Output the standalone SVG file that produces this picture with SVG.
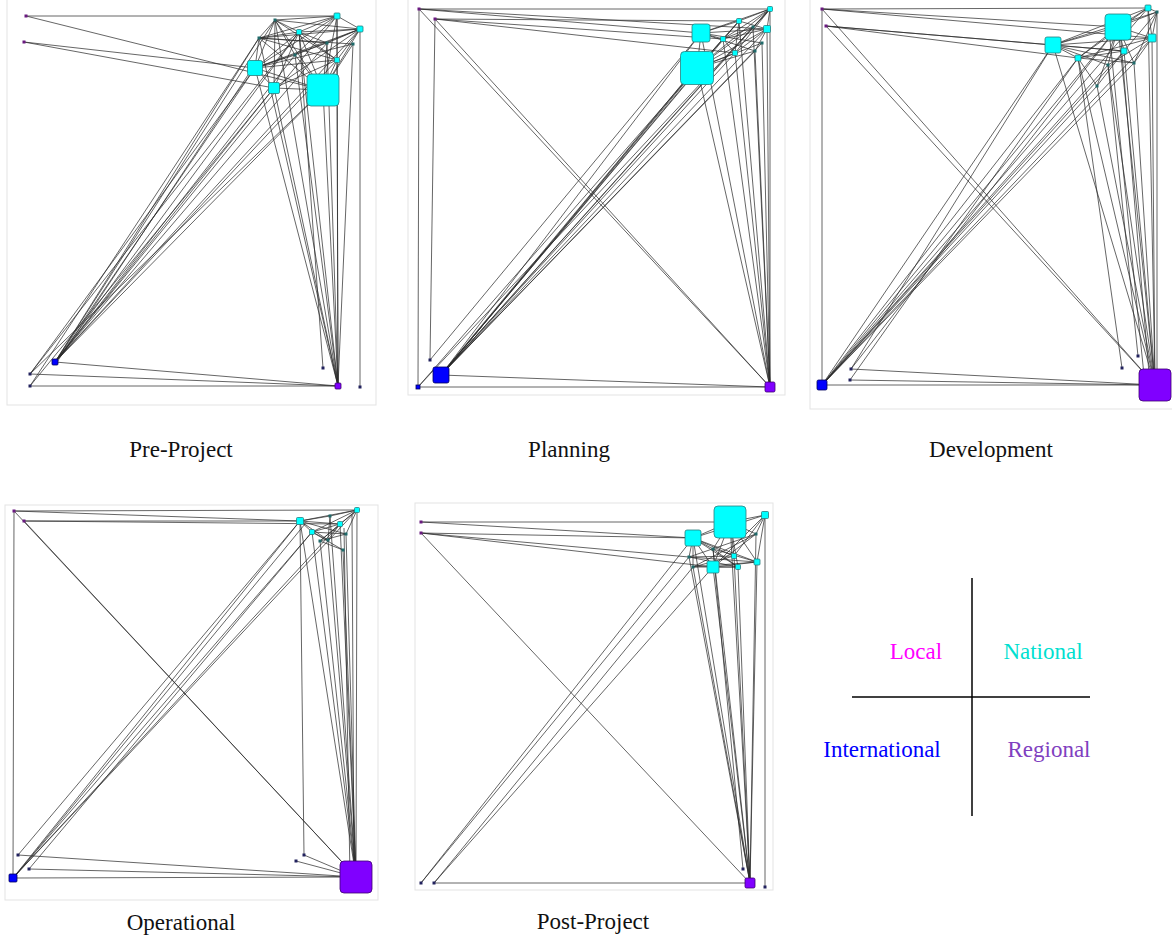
<svg xmlns="http://www.w3.org/2000/svg" width="1172" height="938" viewBox="0 0 1172 938">
<style>
.f{fill:none;stroke:#e3e3e3;stroke-width:1}
.e{fill:none;stroke:#2a2a2a;stroke-width:0.85;stroke-opacity:0.85}
.c{fill:#00ffff;stroke:#2a7f7f;stroke-width:0.8}
.b{fill:#0000ff;stroke:#00005a;stroke-width:0.8}
.r{fill:#8000ff;stroke:#3c0070;stroke-width:0.8}
.t{fill:#1f6a6a}
.l{fill:#6a1a80}
.n{fill:#22225e}
.cap{font-family:"Liberation Serif","Times New Roman",serif;font-size:23px;text-anchor:middle;fill:#111}
.lg{font-family:"Liberation Serif","Times New Roman",serif;font-size:23px;text-anchor:middle}
</style>
<rect width="1172" height="938" fill="#fff"/>
<g id="frames">
<rect class="f" x="7" y="-1" width="369" height="406"/>
<rect class="f" x="408" y="-1" width="377" height="396"/>
<rect class="f" x="810" y="-1" width="363" height="410"/>
<rect class="f" x="5" y="505" width="373" height="395"/>
<rect class="f" x="415" y="503" width="358" height="387"/>
</g>
<g id="connectors">
<path class="e" d="M26 16L337 16M26 16L323 90M24 42L274 88M24 42L255 68
M337 16L275 20M337 16L299 32M337 16L259 38M337 16L360 29M337 16L255 68M337 16L323 90M337 16L337 60M337 16L295 55
M360 29L275 20M360 29L299 32M360 29L259 38M360 29L255 68M360 29L323 90M360 29L337 60M360 29L327 43M360 29L295 55M360 29L274 88
M275 20L259 38M275 20L299 32M275 20L255 68M275 20L323 90M275 20L337 60M275 20L295 55M275 20L274 88
M299 32L259 38M299 32L255 68M299 32L323 90M299 32L327 43M299 32L337 60M299 32L274 88
M259 38L255 68M259 38L337 60M259 38L323 90M259 38L327 43M259 38L353 44
M327 43L255 68M327 43L323 90M353 44L255 68M353 44L323 90M295 55L255 68M295 55L323 90
M337 60L255 68M337 60L323 90M337 60L274 88M255 68L274 88M255 68L323 90M274 88L323 90
M55 362L255 68M55 362L274 88M55 362L323 90M55 362L275 20M55 362L299 32M55 362L259 38M55 362L327 43M55 362L295 55M55 362L337 60M55 362L337 16M55 362L360 29M57 362L250 72
M30 374L255 68M30 374L323 90M30 374L299 32M30 386L274 88M30 386L259 38
M338 386L255 68M338 386L274 88M338 386L323 90M338 386L275 20M338 386L299 32M338 386L259 38M338 386L295 55M338 386L337 60M338 386L337 16M338 386L327 43M338 386L353 44
M338 386L55 362M338 386L30 374M338 386L30 386M323 368L299 32M360 387L360 29"/>
<path class="e" d="M419 9L770 9M419 9L767 29M419 9L701 33M435 19L739 21M435 19L723 39M435 19L735 53
M419 9L418 387M435 19L430 360M419 9L770 387M435 19L770 387M418 387L770 9
M441 375L697 68M441 375L701 33M441 375L723 39M441 375L735 53M441 375L739 21M441 375L755 51M441 375L753 27M441 375L762 43M441 375L767 29M441 375L770 9M444 372L690 75M438 378L692 72
M418 387L697 68M430 360L701 33
M770 387L697 68M770 387L701 33M770 387L723 39M770 387L735 53M770 387L739 21M770 387L755 51M770 387L753 27M770 387L762 43M770 387L767 29M770 387L770 9
M441 375L770 387M418 387L770 387
M770 9L739 21M770 9L701 33M770 9L767 29M770 9L723 39M770 9L753 27M770 9L735 53M770 9L697 68
M739 21L701 33M739 21L767 29M739 21L723 39M739 21L697 68M739 21L735 53
M701 33L767 29M701 33L723 39M701 33L697 68M701 33L762 43M701 33L755 51
M767 29L723 39M767 29L735 53M767 29L697 68M767 29L755 51
M723 39L697 68M723 39L735 53M723 39L753 27M753 27L697 68M762 43L697 68M735 53L697 68M755 51L697 68"/>
<path class="e" d="M822 9L1148 8M822 9L1118 27M822 9L1152 38M826 26L1053 45M826 26L1078 58M826 26L1124 51
M822 9L822 385M822 9L1155 385M826 26L1155 385M822 385L1148 8
M822 385L1118 27M822 385L1053 45M822 385L1078 58M822 385L1108 65M822 385L1097 86M822 385L1124 51M822 385L1134 63M822 385L1152 38
M851 369L1053 45M851 369L1118 27M850 380L1078 58
M1155 385L1148 8M1155 385L1118 27M1155 385L1053 45M1155 385L1152 38M1155 385L1124 51M1155 385L1078 58M1155 385L1134 63M1155 385L1108 65M1155 385L1097 86M1157 385L1157 12M1150 385L1120 30M1145 385L1110 40
M1155 385L822 385M1155 385L851 369M1155 385L850 380M1122 368L1078 58M1138 356L1108 65
M1148 8L1157 12M1148 8L1118 27M1148 8L1053 45M1148 8L1152 38M1148 8L1078 58
M1157 12L1118 27M1157 12L1053 45M1157 12L1152 38M1157 12L1124 51M1157 12L1134 63
M1118 27L1053 45M1118 27L1152 38M1118 27L1124 51M1118 27L1078 58M1118 27L1134 63M1118 27L1108 65M1118 27L1097 86
M1053 45L1152 38M1053 45L1124 51M1053 45L1078 58M1053 45L1134 63M1053 45L1108 65
M1152 38L1078 58M1152 38L1134 63M1152 38L1108 65M1124 51L1078 58M1124 51L1097 86M1078 58L1134 63M1078 58L1097 86"/>
<path class="e" d="M14 511L357 510M14 511L300 521M24 521L300 521M24 521L340 524
M14 511L13 878M14 511L356 877M24 521L356 877M13 878L357 510
M13 878L300 521M13 878L312 532M13 878L340 524M18 855L300 521M29 869L312 532M15 876L305 524
M13 878L356 877M18 855L356 877M29 869L356 877
M356 877L357 510M356 877L300 521M356 877L340 524M356 877L312 532M356 877L330 516M356 877L346 534M356 877L320 541M356 877L328 540M356 877L343 550M354 877L352 515M350 877L344 528
M304 855L300 521M304 855L356 877M296 861L356 877
M357 510L300 521M357 510L340 524M357 510L312 532M357 510L330 516M357 510L346 534M357 510L320 541
M300 521L340 524M300 521L312 532M300 521L330 516M300 521L346 534M300 521L328 540
M340 524L312 532M340 524L320 541M340 524L328 540M312 532L346 534M312 532L328 540M312 532L343 550
M330 516L328 540M346 534L320 541M320 541L343 550"/>
<path class="e" d="M421 522L730 522M421 522L693 538M421 533L693 538M421 533L713 567M421 533L689 557M421 533L750 883
M421 883L693 538M421 883L689 557M434 883L693 567M434 883L713 567M434 883L750 883
M750 883L730 522M750 883L693 538M750 883L756 534M750 883L713 549M750 883L734 556M750 883L689 557M750 883L757 562M750 883L713 567M750 883L738 567M750 883L693 567
M743 869L713 549M765 887L765 515
M730 522L765 515M730 522L693 538M730 522L756 534M730 522L713 549M730 522L734 556M730 522L757 562M730 522L713 567M730 522L738 567
M765 515L756 534M765 515L734 556M765 515L757 562M765 515L693 538M765 515L713 567
M693 538L713 549M693 538L734 556M693 538L689 557M693 538L757 562M693 538L713 567M693 538L738 567M693 538L693 567
M756 534L713 567M756 534L689 557M756 534L693 567M713 549L757 562M713 549L738 567
M734 556L689 557M734 556L693 567M689 557L757 562M689 557L738 567M757 562L713 567M757 562L693 567M713 567L738 567M738 567L693 567"/>
</g>
<g id="pre-project">
<g id="p1-l1"><rect class="l" x="24.5" y="14.5" width="3" height="3"/></g>
<g id="p1-l2"><rect class="l" x="22.5" y="40.5" width="3" height="3"/></g>
<g id="p1-c1"><rect class="c" x="334" y="13" width="6" height="6" rx="1"/></g>
<g id="p1-c2"><rect class="c" x="357" y="26" width="6" height="6" rx="1"/></g>
<g id="p1-c3"><rect class="t" x="273.5" y="18.5" width="3" height="3"/></g>
<g id="p1-c4"><rect class="c" x="296.5" y="29.5" width="5" height="5" rx="1"/></g>
<g id="p1-c5"><rect class="t" x="257.5" y="36.5" width="3" height="3"/></g>
<g id="p1-c6"><rect class="t" x="325.5" y="41.5" width="3" height="3"/></g>
<g id="p1-c7"><rect class="t" x="351.5" y="42.5" width="3" height="3"/></g>
<g id="p1-c8"><rect class="t" x="293.5" y="53.5" width="3" height="3"/></g>
<g id="p1-c9"><rect class="c" x="334.5" y="57.5" width="5" height="5" rx="1"/></g>
<g id="p1-c10"><rect class="c" x="247.5" y="60.5" width="15" height="15" rx="2"/></g>
<g id="p1-c11"><rect class="c" x="268.5" y="82.5" width="11" height="11" rx="1.5"/></g>
<g id="p1-c12"><rect class="c" x="307" y="74" width="32" height="32" rx="4"/></g>
<g id="p1-b1"><rect class="b" x="52" y="359" width="6" height="6" rx="1"/></g>
<g id="p1-b2"><rect class="n" x="28.5" y="372.5" width="3" height="3"/></g>
<g id="p1-b3"><rect class="n" x="28.5" y="384.5" width="3" height="3"/></g>
<g id="p1-r1"><rect class="r" x="335" y="383" width="6" height="6" rx="1"/></g>
<g id="p1-t1"><rect class="n" x="321.5" y="366.5" width="3" height="3"/></g>
<g id="p1-t2"><rect class="n" x="358.5" y="385.5" width="3" height="3"/></g>
</g>
<g id="planning">
<g id="p2-l1"><rect class="l" x="417.5" y="7.5" width="3" height="3"/></g>
<g id="p2-l2"><rect class="l" x="433.5" y="17.5" width="3" height="3"/></g>
<g id="p2-c1"><rect class="c" x="767.5" y="6.5" width="5" height="5" rx="1"/></g>
<g id="p2-c2"><rect class="c" x="736.5" y="18.5" width="5" height="5" rx="1"/></g>
<g id="p2-c3"><rect class="c" x="692" y="24" width="18" height="18" rx="2.5"/></g>
<g id="p2-c4"><rect class="c" x="763.5" y="25.5" width="7" height="7" rx="1"/></g>
<g id="p2-c5"><rect class="c" x="720.5" y="36.5" width="5" height="5" rx="1"/></g>
<g id="p2-c6"><rect class="t" x="751.5" y="25.5" width="3" height="3"/></g>
<g id="p2-c7"><rect class="t" x="760.5" y="41.5" width="3" height="3"/></g>
<g id="p2-c8"><rect class="c" x="732.5" y="50.5" width="5" height="5" rx="1"/></g>
<g id="p2-c9"><rect class="t" x="753.5" y="49.5" width="3" height="3"/></g>
<g id="p2-c10"><rect class="c" x="680.5" y="51.5" width="33" height="33" rx="4"/></g>
<g id="p2-b1"><rect class="b" x="433" y="367" width="16" height="16" rx="2"/></g>
<g id="p2-b2"><rect class="b" x="416" y="385" width="4" height="4"/></g>
<g id="p2-b3"><rect class="n" x="428.5" y="358.5" width="3" height="3"/></g>
<g id="p2-r1"><rect class="r" x="765" y="382" width="10" height="10" rx="1.5"/></g>
</g>
<g id="development">
<g id="p3-l1"><rect class="l" x="820.5" y="7.5" width="3" height="3"/></g>
<g id="p3-l2"><rect class="l" x="824.5" y="24.5" width="3" height="3"/></g>
<g id="p3-c1"><rect class="c" x="1145" y="5" width="6" height="6" rx="1"/></g>
<g id="p3-c2"><rect class="t" x="1155.5" y="10.5" width="3" height="3"/></g>
<g id="p3-c3"><rect class="c" x="1105" y="14" width="26" height="26" rx="3.5"/></g>
<g id="p3-c4"><rect class="c" x="1045" y="37" width="16" height="16" rx="2"/></g>
<g id="p3-c5"><rect class="c" x="1148" y="34" width="8" height="8" rx="1"/></g>
<g id="p3-c6"><rect class="c" x="1121" y="48" width="6" height="6" rx="1"/></g>
<g id="p3-c7"><rect class="c" x="1075" y="55" width="6" height="6" rx="1"/></g>
<g id="p3-c8"><rect class="t" x="1132.5" y="61.5" width="3" height="3"/></g>
<g id="p3-c9"><rect class="t" x="1106.5" y="63.5" width="3" height="3"/></g>
<g id="p3-c10"><rect class="t" x="1095.5" y="84.5" width="3" height="3"/></g>
<g id="p3-b1"><rect class="b" x="817" y="380" width="10" height="10" rx="1.5"/></g>
<g id="p3-b2"><rect class="n" x="849.5" y="367.5" width="3" height="3"/></g>
<g id="p3-b3"><rect class="n" x="848.5" y="378.5" width="3" height="3"/></g>
<g id="p3-r1"><rect class="r" x="1139" y="369" width="32" height="32" rx="4"/></g>
<g id="p3-t1"><rect class="n" x="1120.5" y="366.5" width="3" height="3"/></g>
<g id="p3-t2"><rect class="n" x="1136.5" y="354.5" width="3" height="3"/></g>
</g>
<g id="operational">
<g id="p4-l1"><rect class="l" x="12.5" y="509.5" width="3" height="3"/></g>
<g id="p4-l2"><rect class="l" x="22.5" y="519.5" width="3" height="3"/></g>
<g id="p4-c1"><rect class="c" x="354.5" y="507.5" width="5" height="5" rx="1"/></g>
<g id="p4-c2"><rect class="c" x="296.5" y="517.5" width="7" height="7" rx="1"/></g>
<g id="p4-c3"><rect class="c" x="337.5" y="521.5" width="5" height="5" rx="1"/></g>
<g id="p4-c4"><rect class="c" x="309.5" y="529.5" width="5" height="5" rx="1"/></g>
<g id="p4-c5"><rect class="t" x="328.5" y="514.5" width="3" height="3"/></g>
<g id="p4-c6"><rect class="t" x="344.5" y="532.5" width="3" height="3"/></g>
<g id="p4-c7"><rect class="t" x="318.5" y="539.5" width="3" height="3"/></g>
<g id="p4-c8"><rect class="t" x="326.5" y="538.5" width="3" height="3"/></g>
<g id="p4-c9"><rect class="t" x="341.5" y="548.5" width="3" height="3"/></g>
<g id="p4-b1"><rect class="b" x="9" y="874" width="8" height="8" rx="1"/></g>
<g id="p4-b2"><rect class="n" x="16.5" y="853.5" width="3" height="3"/></g>
<g id="p4-b3"><rect class="n" x="27.5" y="867.5" width="3" height="3"/></g>
<g id="p4-r1"><rect class="r" x="340" y="861" width="32" height="32" rx="4"/></g>
<g id="p4-t1"><rect class="n" x="302.5" y="853.5" width="3" height="3"/></g>
<g id="p4-t2"><rect class="n" x="294.5" y="859.5" width="3" height="3"/></g>
</g>
<g id="post-project">
<g id="p5-l1"><rect class="l" x="419.5" y="520.5" width="3" height="3"/></g>
<g id="p5-l2"><rect class="l" x="419.5" y="531.5" width="3" height="3"/></g>
<g id="p5-c1"><rect class="c" x="714" y="506" width="32" height="32" rx="4"/></g>
<g id="p5-c2"><rect class="c" x="761.5" y="511.5" width="7" height="7" rx="1"/></g>
<g id="p5-c3"><rect class="c" x="685" y="530" width="16" height="16" rx="2"/></g>
<g id="p5-c4"><rect class="t" x="754.5" y="532.5" width="3" height="3"/></g>
<g id="p5-c5"><rect class="t" x="711.5" y="547.5" width="3" height="3"/></g>
<g id="p5-c6"><rect class="c" x="731.5" y="553.5" width="5" height="5" rx="1"/></g>
<g id="p5-c7"><rect class="t" x="687.5" y="555.5" width="3" height="3"/></g>
<g id="p5-c8"><rect class="c" x="754" y="559" width="6" height="6" rx="1"/></g>
<g id="p5-c9"><rect class="c" x="707" y="561" width="12" height="12" rx="1.5"/></g>
<g id="p5-c10"><rect class="c" x="735.5" y="564.5" width="5" height="5" rx="1"/></g>
<g id="p5-c11"><rect class="t" x="691.5" y="565.5" width="3" height="3"/></g>
<g id="p5-b1"><rect class="n" x="419.5" y="881.5" width="3" height="3"/></g>
<g id="p5-b2"><rect class="n" x="432.5" y="881.5" width="3" height="3"/></g>
<g id="p5-r1"><rect class="r" x="745" y="878" width="10" height="10" rx="1.5"/></g>
<g id="p5-t1"><rect class="n" x="741.5" y="867.5" width="3" height="3"/></g>
<g id="p5-t2"><rect class="n" x="763.5" y="885.5" width="3" height="3"/></g>
</g>
<g id="captions">
<text class="cap" x="181" y="457">Pre-Project</text>
<text class="cap" x="569" y="457">Planning</text>
<text class="cap" x="991" y="457">Development</text>
<text class="cap" x="181" y="930">Operational</text>
<text class="cap" x="593" y="929">Post-Project</text>
</g>
<g id="legend">
<line x1="972" y1="578" x2="972" y2="816" stroke="#000" stroke-width="1.5"/>
<line x1="852" y1="697" x2="1090" y2="697" stroke="#000" stroke-width="1.5"/>
<text class="lg" x="916" y="659" fill="#ff00ff">Local</text>
<text class="lg" x="1043" y="659" fill="#00e0d0">National</text>
<text class="lg" x="882" y="757" fill="#0000ff">International</text>
<text class="lg" x="1049" y="757" fill="#8040c0">Regional</text>
</g>
</svg>
